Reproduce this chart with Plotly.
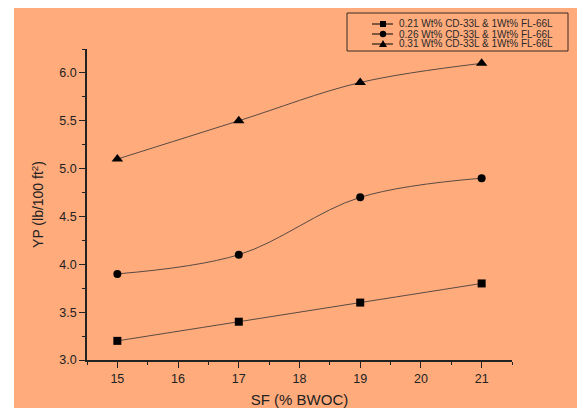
import plotly.graph_objects as go

# ---- data ----
sf = [15, 17, 19, 21]
yp_021 = [3.2, 3.4, 3.6, 3.8]
yp_026 = [3.9, 4.1, 4.7, 4.9]
yp_031 = [5.1, 5.5, 5.9, 6.1]
series_names = [
    "0.21 Wt% CD-33L & 1Wt% FL-66L",
    "0.26 Wt% CD-33L & 1Wt% FL-66L",
    "0.31 Wt% CD-33L & 1Wt% FL-66L",
]
x_ticks = [15, 16, 17, 18, 19, 20, 21]
y_ticks = [3.0, 3.5, 4.0, 4.5, 5.0, 5.5, 6.0]

BG = "#FFAB7C"
LINE = "#5a4a42"
FONT = "Liberation Sans, Arial, sans-serif"

W, H = 585, 408
OFF = 8  # page body margin
L, R, T, B = 79, 81, 41, 56
PW, PH = W - L - R, H - T - B


def px_x(p):  # page pixel -> paper
    return (p - OFF - L) / PW


def px_y(p):
    return (H - B - (p - OFF)) / PH


fig = go.Figure()
symbols = ["square", "circle", "triangle-up"]
sizes = [8, 8, 10]
for ys, name, sym, sz in zip([yp_021, yp_026, yp_031], series_names, symbols, sizes):
    fig.add_trace(go.Scatter(
        x=sf, y=ys, name=name, mode="lines+markers",
        line=dict(color=LINE, width=1, shape="spline", smoothing=1.0),
        marker=dict(symbol=sym, size=sz, color="black"),
        showlegend=False,
    ))

shapes = []
# white strip on the left like the source image
shapes.append(dict(type="rect", xref="paper", yref="paper", x0=-1, x1=px_x(14), y0=-1, y1=2,
                   fillcolor="white", line=dict(width=0), layer="below"))
# legend box
shapes.append(dict(type="rect", xref="paper", yref="paper", x0=px_x(347), x1=px_x(568),
                   y0=px_y(51), y1=px_y(13), line=dict(color="#3a2a22", width=1)))
annotations = []
rows = [24, 34, 44]
for i, (name, ry) in enumerate(zip(series_names, rows)):
    yy = px_y(ry)
    shapes.append(dict(type="line", xref="paper", yref="paper", x0=px_x(372), x1=px_x(393),
                       y0=yy, y1=yy, line=dict(color="black", width=1)))
    cx = px_x(383)
    if i == 0:
        shapes.append(dict(type="rect", xref="paper", yref="paper", xsizemode="pixel", ysizemode="pixel",
                           xanchor=cx, yanchor=yy, x0=-3, x1=3, y0=-3, y1=3,
                           fillcolor="black", line=dict(width=0)))
    elif i == 1:
        shapes.append(dict(type="circle", xref="paper", yref="paper", xsizemode="pixel", ysizemode="pixel",
                           xanchor=cx, yanchor=yy, x0=-3.2, x1=3.2, y0=-3.2, y1=3.2,
                           fillcolor="black", line=dict(width=0)))
    else:
        shapes.append(dict(type="path", xref="paper", yref="paper", xsizemode="pixel", ysizemode="pixel",
                           xanchor=cx, yanchor=yy, path="M -4,-3 L 4,-3 L 0,4 Z",
                           fillcolor="black", line=dict(width=0)))
    annotations.append(dict(x=px_x(397), y=yy, xref="paper", yref="paper", text=name,
                            showarrow=False, xanchor="left", yanchor="middle",
                            font=dict(size=10, color="#2a2a2a", family=FONT)))

fig.update_layout(
    width=W, height=H,
    margin=dict(l=L, r=R, t=T, b=B, pad=0, autoexpand=False),
    paper_bgcolor=BG, plot_bgcolor=BG,
    font=dict(family=FONT, color="#222", size=12),
    shapes=shapes, annotations=annotations,
    showlegend=False,
)
fig.update_xaxes(
    automargin=False,
    range=[14.5, 21.5], tickvals=x_ticks, ticktext=[str(v) for v in x_ticks],
    ticks="outside", ticklen=6, tickwidth=1.3, tickcolor="#222",
    showline=True, linecolor="#222", linewidth=1.5, showgrid=False, zeroline=False,
    minor=dict(dtick=0.5, tick0=14.5, ticks="outside", ticklen=3.5, tickcolor="#222", tickwidth=1.3),
    tickfont=dict(size=12.5, color="#222"),
    title=dict(text="SF (% BWOC)", font=dict(size=15, color="#222"), standoff=10),
)
fig.update_yaxes(
    automargin=False,
    range=[3.0, 6.25], tickvals=y_ticks, ticktext=[f"{v:.1f}" for v in y_ticks],
    ticks="outside", ticklen=6, tickwidth=1.3, tickcolor="#222",
    showline=True, linecolor="#222", linewidth=1.5, showgrid=False, zeroline=False,
    minor=dict(dtick=0.25, tick0=3.0, ticks="outside", ticklen=3.5, tickcolor="#222", tickwidth=1.3),
    tickfont=dict(size=12.5, color="#222"),
    title=dict(text="YP (lb/100 ft<sup>2</sup>)", font=dict(size=14, color="#222"), standoff=12),
)

fig.write_html("out.html")
